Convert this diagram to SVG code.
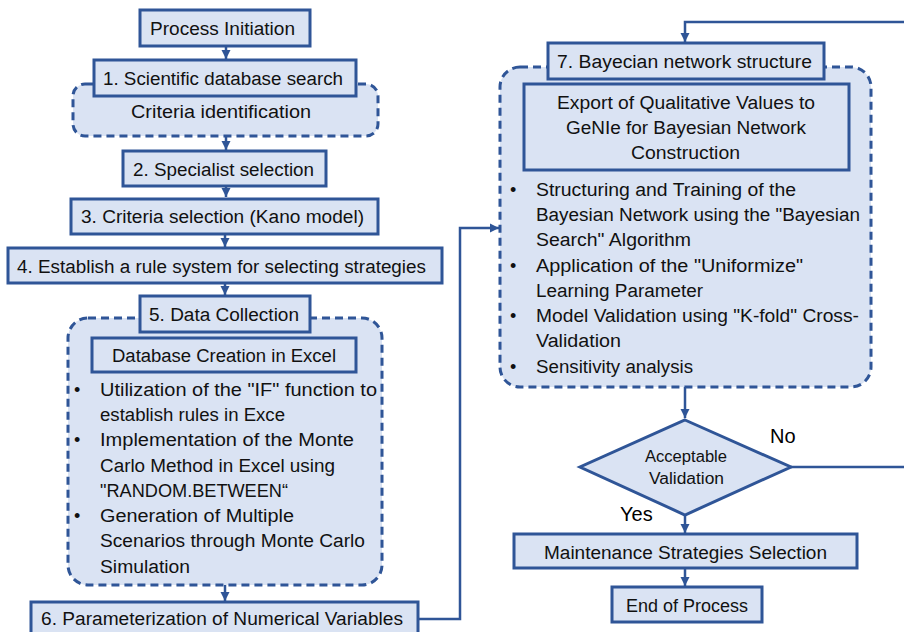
<svg xmlns="http://www.w3.org/2000/svg" width="904" height="632" viewBox="0 0 904 632">
<defs>
<style>
.box{fill:#DAE3F3;stroke:#2F5597;stroke-width:3}
.dash{fill:#DAE3F3;stroke:#2F5597;stroke-width:3;stroke-dasharray:8 5}
.t{font-family:"Liberation Sans",Arial,sans-serif;font-size:18px;fill:#111}
.c{text-anchor:middle}
.s{font-size:16px}
.lbl{font-family:"Liberation Sans",Arial,sans-serif;font-size:20px;fill:#000}
.ln{fill:none;stroke:#2F5597;stroke-width:2.5}
</style>
<marker id="ah" markerUnits="userSpaceOnUse" markerWidth="10" markerHeight="10" refX="9" refY="5" orient="auto">
<path d="M0,0.5 L9,5 L0,9.5 z" fill="#2F5597"/>
</marker>
</defs>
<rect width="904" height="632" fill="#fff"/>

<g id="connectors">
<path class="ln" d="M226,46 V59" marker-end="url(#ah)"/>
<path class="ln" d="M226,136 V150" marker-end="url(#ah)"/>
<path class="ln" d="M226,186 V197" marker-end="url(#ah)"/>
<path class="ln" d="M225,234 V247" marker-end="url(#ah)"/>
<path class="ln" d="M225,283 V295" marker-end="url(#ah)"/>
<path class="ln" d="M225,585 V601" marker-end="url(#ah)"/>
<path class="ln" d="M418,619 H460 V228 H499" marker-end="url(#ah)"/>
<path class="ln" d="M904,22 H685 V42" marker-end="url(#ah)"/>
<path class="ln" d="M685,387 V418" marker-end="url(#ah)"/>
<path class="ln" d="M791,467 H904"/>
<path class="ln" d="M685,515 V533" marker-end="url(#ah)"/>
<path class="ln" d="M685,568 V586" marker-end="url(#ah)"/>
</g>

<g id="process-initiation">
<rect class="box" x="140" y="10" width="170" height="36"/>
<text class="t c" x="222.5" y="35" textLength="145" lengthAdjust="spacingAndGlyphs">Process Initiation</text>
</g>

<g id="criteria-identification">
<rect class="dash" x="73" y="84" width="305" height="52" rx="12"/>
<text class="t c" x="221" y="118" textLength="180" lengthAdjust="spacingAndGlyphs">Criteria identification</text>
</g>

<g id="step1">
<rect class="box" x="94" y="60" width="262" height="36"/>
<text class="t c" x="223" y="85" textLength="240" lengthAdjust="spacingAndGlyphs">1. Scientific database search</text>
</g>

<g id="step2">
<rect class="box" x="123" y="151" width="203" height="35"/>
<text class="t c" x="223.5" y="175.5" textLength="181" lengthAdjust="spacingAndGlyphs">2. Specialist selection</text>
</g>

<g id="step3">
<rect class="box" x="71" y="199" width="307" height="35"/>
<text class="t c" x="222.5" y="223" textLength="283" lengthAdjust="spacingAndGlyphs">3. Criteria selection (Kano model)</text>
</g>

<g id="step4">
<rect class="box" x="8" y="248" width="434" height="35"/>
<text class="t c" x="221.5" y="273" textLength="409" lengthAdjust="spacingAndGlyphs">4. Establish a rule system for selecting strategies</text>
</g>

<g id="data-collection-group">
<rect class="dash" x="68" y="318" width="314" height="267" rx="20"/>
<rect class="box" x="92" y="338" width="264" height="34"/>
<text class="t c" x="224" y="362" textLength="224" lengthAdjust="spacingAndGlyphs">Database Creation in Excel</text>
<text class="t" x="74" y="396">•</text>
<text class="t" x="100" y="396" textLength="277" lengthAdjust="spacingAndGlyphs">Utilization of the "IF" function to</text>
<text class="t" x="100" y="421" textLength="185" lengthAdjust="spacingAndGlyphs">establish rules in Exce</text>
<text class="t" x="74" y="446">•</text>
<text class="t" x="100" y="446" textLength="254" lengthAdjust="spacingAndGlyphs">Implementation of the Monte</text>
<text class="t" x="100" y="471.5" textLength="235" lengthAdjust="spacingAndGlyphs">Carlo Method in Excel using</text>
<text class="t" x="100" y="497" textLength="188" lengthAdjust="spacingAndGlyphs">"RANDOM.BETWEEN“</text>
<text class="t" x="74" y="522">•</text>
<text class="t" x="100" y="522" textLength="194" lengthAdjust="spacingAndGlyphs">Generation of Multiple</text>
<text class="t" x="100" y="547" textLength="265" lengthAdjust="spacingAndGlyphs">Scenarios through Monte Carlo</text>
<text class="t" x="100" y="572.5" textLength="90" lengthAdjust="spacingAndGlyphs">Simulation</text>
</g>

<g id="step5">
<rect class="box" x="140" y="296" width="170" height="36"/>
<text class="t c" x="224" y="321" textLength="150" lengthAdjust="spacingAndGlyphs">5. Data Collection</text>
</g>

<g id="step6">
<rect class="box" x="31" y="602" width="387" height="40"/>
<text class="t c" x="222" y="625" textLength="362" lengthAdjust="spacingAndGlyphs">6. Parameterization of Numerical Variables</text>
</g>

<g id="bayesian-group">
<rect class="dash" x="500" y="67" width="371" height="320" rx="20"/>
<rect class="box" x="524" y="84" width="325" height="86"/>
<text class="t c" x="686" y="109" textLength="258" lengthAdjust="spacingAndGlyphs">Export of Qualitative Values to</text>
<text class="t c" x="686" y="134" textLength="240" lengthAdjust="spacingAndGlyphs">GeNIe for Bayesian Network</text>
<text class="t c" x="685.5" y="159" textLength="109" lengthAdjust="spacingAndGlyphs">Construction</text>
<text class="t" x="510" y="196">•</text>
<text class="t" x="536" y="196" textLength="260" lengthAdjust="spacingAndGlyphs">Structuring and Training of the</text>
<text class="t" x="536" y="221" textLength="324" lengthAdjust="spacingAndGlyphs">Bayesian Network using the "Bayesian</text>
<text class="t" x="536" y="246" textLength="155" lengthAdjust="spacingAndGlyphs">Search" Algorithm</text>
<text class="t" x="510" y="272">•</text>
<text class="t" x="536" y="272" textLength="267" lengthAdjust="spacingAndGlyphs">Application of the "Uniformize"</text>
<text class="t" x="536" y="297" textLength="167" lengthAdjust="spacingAndGlyphs">Learning Parameter</text>
<text class="t" x="510" y="322">•</text>
<text class="t" x="536" y="322" textLength="323" lengthAdjust="spacingAndGlyphs">Model Validation using "K-fold" Cross-</text>
<text class="t" x="536" y="347" textLength="85" lengthAdjust="spacingAndGlyphs">Validation</text>
<text class="t" x="510" y="372.5">•</text>
<text class="t" x="536" y="372.5" textLength="157" lengthAdjust="spacingAndGlyphs">Sensitivity analysis</text>
</g>

<g id="step7">
<rect class="box" x="548" y="43" width="276" height="36"/>
<text class="t c" x="684.5" y="68" textLength="255" lengthAdjust="spacingAndGlyphs">7. Bayecian network structure</text>
</g>

<g id="decision">
<polygon class="box" points="685,420 791,467 685,515 580,467"/>
<text class="t c s" x="686" y="461.5" textLength="82" lengthAdjust="spacingAndGlyphs">Acceptable</text>
<text class="t c s" x="686.5" y="484" textLength="75" lengthAdjust="spacingAndGlyphs">Validation</text>
<text class="lbl" x="770" y="443">No</text>
<text class="lbl" x="620" y="520.5">Yes</text>
</g>

<g id="maintenance">
<rect class="box" x="514" y="534" width="343" height="34"/>
<text class="t c" x="685.5" y="559" textLength="283" lengthAdjust="spacingAndGlyphs">Maintenance Strategies Selection</text>
</g>

<g id="end">
<rect class="box" x="612" y="587" width="150" height="35"/>
<text class="t c" x="687" y="612" textLength="122" lengthAdjust="spacingAndGlyphs">End of Process</text>
</g>
</svg>
